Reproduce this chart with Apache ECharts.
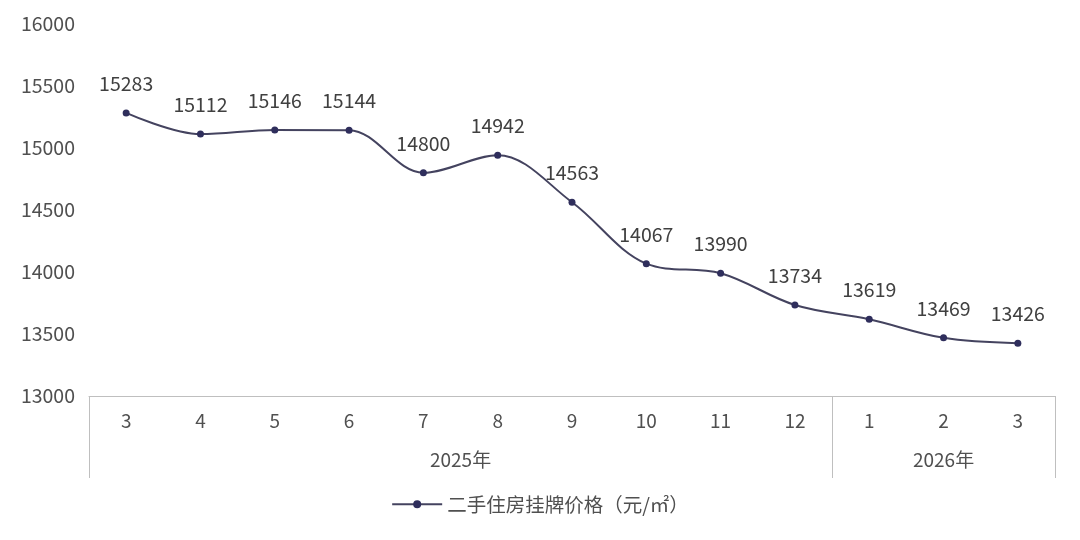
<!DOCTYPE html>
<html>
<head>
<meta charset="utf-8">
<script src="https://cdn.jsdelivr.net/npm/echarts@6/dist/echarts.min.js"></script>
<style>html,body{margin:0;padding:0;background:#fff}#c{width:1080px;height:540px}</style>
</head>
<body>
<div id="c"></div>
<script>
const months = ['3','4','5','6','7','8','9','10','11','12','1','2','3'];
const prices = [15283, 15112, 15146, 15144, 14800, 14942, 14563, 14067, 13990, 13734, 13619, 13469, 13426];
const years = ['2025年', '2026年'];
const yearStartIdx = [0, 10];
const seriesName = '二手住房挂牌价格（元/㎡）';

const n = months.length;
// year label positions in half-category units
const yearCenters = yearStartIdx.map((s, i) => {
  const e = i + 1 < yearStartIdx.length ? yearStartIdx[i + 1] : n;
  return s + e;
});
const FONT = '"Noto Sans CJK SC", "Microsoft YaHei", sans-serif';
const chart = echarts.init(document.getElementById('c'));
chart.setOption({
  animation: false,
  textStyle: { fontFamily: FONT },
  grid: { left: 89, right: 25, top: 24, bottom: 144 },
  xAxis: [
    {
      type: 'category',
      data: months,
      boundaryGap: true,
      axisLine: { lineStyle: { color: '#bfbfbf', width: 1 } },
      axisTick: {
        show: true,
        length: 82,
        lineStyle: { color: '#bfbfbf' },
        interval: (idx) => yearStartIdx.indexOf(idx) >= 0
      },
      axisLabel: { color: '#505050', fontSize: 19, margin: 15, interval: 0 }
    },
    {
      type: 'value',
      position: 'bottom',
      min: 0,
      max: n * 2,
      interval: 1,
      axisLine: { show: false },
      axisTick: { show: false },
      splitLine: { show: false },
      axisLabel: {
        color: '#505050', fontSize: 19, margin: 54,
        formatter: (v) => {
          const k = yearCenters.indexOf(v);
          return k >= 0 ? years[k] : '';
        }
      }
    }
  ],
  yAxis: {
    type: 'value',
    min: 13000,
    max: 16000,
    interval: 500,
    axisLine: { show: false },
    axisTick: { show: false },
    splitLine: { show: false },
    axisLabel: { color: '#505050', fontSize: 19.5, margin: 14, formatter: (v) => String(v) }
  },
  legend: {
    bottom: 21,
    left: 'center',
    itemWidth: 50,
    itemHeight: 10,
    itemGap: 10,
    textStyle: { color: '#505050', fontSize: 19.5, fontFamily: FONT },
    data: [{ name: seriesName }]
  },
  series: [{
    name: seriesName,
    type: 'line',
    xAxisIndex: 0,
    data: prices,
    smooth: 0.35,
    symbol: 'circle',
    symbolSize: 7,
    lineStyle: { color: '#44435f', width: 2 },
    itemStyle: { color: '#2f2e5c' },
    label: {
      show: true,
      position: 'top',
      distance: 16,
      color: '#404040',
      fontSize: 19.5
    }
  }]
});
</script>
</body>
</html>
